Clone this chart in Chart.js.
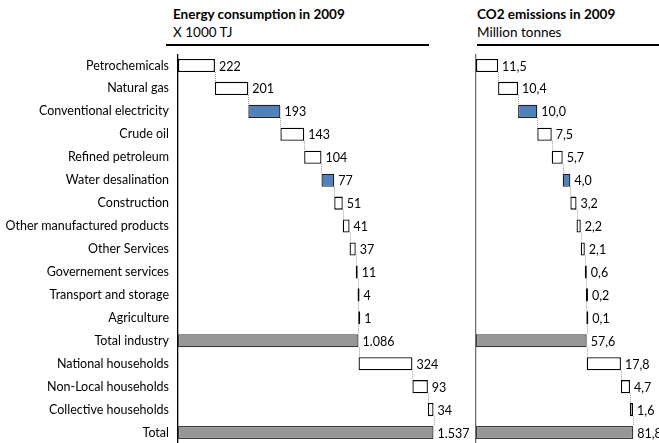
<!DOCTYPE html>
<html>
<head>
<meta charset="utf-8">
<script src="https://cdn.jsdelivr.net/npm/chart.js@4"></script>
<style>
  html, body { margin: 0; padding: 0; background: #fff; width: 659px; height: 443px; overflow: hidden; font-family: Lato, "Open Sans", sans-serif; }
  .title { position: absolute; font-size: 13.5px; font-weight: bold; color: #000; white-space: nowrap; }
  .sub { position: absolute; font-size: 13.5px; color: #000; white-space: nowrap; }
  .rule { position: absolute; height: 2px; background: #000; }
  #wrapL { position: absolute; left: 0; top: 54px; width: 470px; height: 390px; }
  #wrapR { position: absolute; left: 470px; top: 54px; width: 189px; height: 390px; }
</style>
</head>
<body>
<div class="title" style="left:173px; top:6px;">Energy consumption in 2009</div>
<div class="sub" style="left:173px; top:24px;">X 1000 TJ</div>
<div class="rule" style="left:166px; top:44px; width:263px;"></div>
<div class="title" style="left:477px; top:6px;">CO2 emissions in 2009</div>
<div class="sub" style="left:477px; top:24px;">Million tonnes</div>
<div class="rule" style="left:477px; top:44px; width:182px;"></div>
<div id="wrapL"><canvas id="cL"></canvas></div>
<div id="wrapR"><canvas id="cR"></canvas></div>
<script>
const categories = ["Petrochemicals", "Natural gas", "Conventional electricity", "Crude oil", "Refined petroleum", "Water desalination", "Construction", "Other manufactured products", "Other Services", "Governement services", "Transport and storage", "Agriculture", "Total industry", "National households", "Non-Local households", "Collective households", "Total"];
const energyValues = [222, 201, 193, 143, 104, 77, 51, 41, 37, 11, 4, 1, 1086, 324, 93, 34, 1537];
const co2Values = [11.5, 10.4, 10.0, 7.5, 5.7, 4.0, 3.2, 2.2, 2.1, 0.6, 0.2, 0.1, 57.6, 17.8, 4.7, 1.6, 81.8];
// bar kind: "w" = white step, "b" = blue highlighted step, "t" = total from zero
const barKinds = ["w", "w", "b", "w", "w", "b", "w", "w", "w", "w", "w", "w", "t", "w", "w", "w", "t"];

function waterfall(values) {
  let cum = 0;
  return values.map((v, i) => {
    if (barKinds[i] === "t") { cum = v; return [0, v]; }
    const start = cum; cum = cum + v; return [start, cum];
  });
}
const fills = { w: "#ffffff", b: "#4f81bd", t: "#969696" };
const borders = { w: "#000000", b: "#1f1f1f", t: "#3a3a3a" };

function fmtEnergy(v) { return String(v).replace(/\B(?=(\d{3})+(?!\d))/g, "."); }
function fmtCo2(v) { return v.toFixed(1).replace(".", ","); }

const waterfallPlugin = {
  id: "wf",
  afterDatasetsDraw(chart, args, opts) {
    const ctx = chart.ctx;
    const meta = chart.getDatasetMeta(0);
    const data = chart.data.datasets[0].data;
    const xs = chart.scales.x;
    ctx.save();
    // dotted connectors
    ctx.strokeStyle = "#a0a0a0";
    ctx.lineWidth = 1;
    ctx.setLineDash([1, 1]);
    for (let i = 0; i < data.length - 1; i++) {
      const cur = meta.data[i], nxt = meta.data[i + 1];
      const xv = xs.getPixelForValue(data[i][1]);
      ctx.beginPath();
      ctx.moveTo(Math.round(xv) + 0.5, cur.y + cur.height / 2);
      ctx.lineTo(Math.round(xv) + 0.5, nxt.y - nxt.height / 2);
      ctx.stroke();
    }
    ctx.setLineDash([]);
    // value labels
    ctx.fillStyle = "#000";
    ctx.font = "12.5px Lato, 'Open Sans', sans-serif";
    ctx.textBaseline = "middle";
    ctx.textAlign = "left";
    for (let i = 0; i < data.length; i++) {
      const el = meta.data[i];
      const xe = Math.max(xs.getPixelForValue(data[i][1]), el.x);
      ctx.fillText(opts.fmt(opts.values[i]), xe + 4, el.y + 1);
    }
    ctx.restore();
  }
};

function makeChart(id, values, fmt, xmax, showLabels, padRight) {
  return new Chart(document.getElementById(id), {
    type: "bar",
    data: {
      labels: categories,
      datasets: [{
        data: waterfall(values),
        backgroundColor: barKinds.map(k => fills[k]),
        borderColor: barKinds.map(k => borders[k]),
        borderWidth: 1.3,
        borderSkipped: false,
        minBarLength: 2,
        categoryPercentage: 1,
        barPercentage: 0.57
      }]
    },
    options: {
      indexAxis: "y",
      responsive: true,
      maintainAspectRatio: false,
      animation: false,
      layout: { padding: { left: 0, right: padRight, top: 0, bottom: 0 } },
      plugins: {
        legend: { display: false },
        tooltip: { enabled: false },
        wf: { values: values, fmt: fmt }
      },
      scales: {
        x: { display: false, min: 0, max: xmax },
        y: {
          display: true,
          grid: { display: false, drawTicks: false },
          border: { display: true, color: showLabels ? "#000" : "#6e6e6e", width: 1.3 },
          ticks: {
            display: showLabels,
            padding: 9,
            color: "#000",
            font: { family: "Lato, 'Open Sans', sans-serif", size: 12.5 }
          },
          afterFit(scale) {
            scale.width = showLabels ? 178 : 6;
            scale.paddingTop = 0;
            scale.paddingBottom = 0;
          }
        }
      }
    },
    plugins: [waterfallPlugin]
  });
}

makeChart("cL", energyValues, fmtEnergy, 1600, true, 26);
makeChart("cR", co2Values, fmtCo2, 90, false, 10);
</script>
</body>
</html>
